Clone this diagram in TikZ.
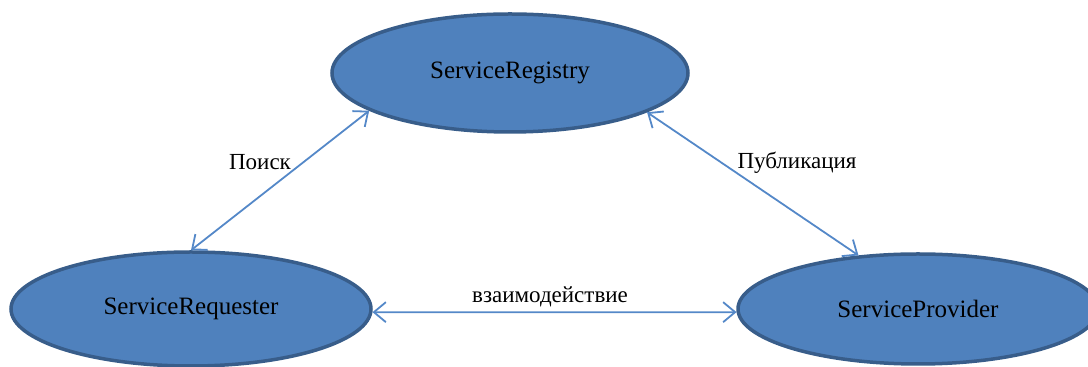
\documentclass[tikz,border=0pt]{standalone}
\usepackage{fontspec}
\setmainfont{Liberation Serif}
\usetikzlibrary{shapes.geometric,arrows.meta}
\definecolor{svcfill}{RGB}{79,129,189}
\definecolor{svcline}{RGB}{56,93,138}
\definecolor{linkcol}{RGB}{84,136,200}

\begin{document}
\begin{tikzpicture}[x=0.5pt,y=-0.5pt,
  svc/.style={ellipse, draw=svcline, fill=svcfill, line width=1.75pt,
    inner sep=0pt, font=\fontsize{12.5}{14}\selectfont},
  link/.style={draw=linkcol, line width=0.9pt,
    {Straight Barb[length=6pt,width=10pt]}-{Straight Barb[length=6pt,width=10pt]}},
  lbl/.style={font=\fontsize{11.5}{13}\selectfont}]
  \useasboundingbox (0,0) rectangle (1088,367);

  \node[svc, minimum width=178pt, minimum height=59pt] (reg) at (510,73) {ServiceRegistry};
  \node[svc, minimum width=180pt, minimum height=57pt] (req) at (191,309) {ServiceRequester};
  \node[svc, minimum width=180pt, minimum height=55pt] (prov) at (918,309) {ServiceProvider};

  \draw[link] (req.north) -- (reg.195);
  \draw[link] (reg.-16) -- (prov.138);
  \draw[link] (req.-1) -- (prov.181);

  \node[lbl] (search) at (260,162) {Поиск};
  \node[lbl] (publish) at (797,163) {Публикация};
  \node[lbl] (interact) at (550,297) {взаимодействие};
\end{tikzpicture}
\end{document}
